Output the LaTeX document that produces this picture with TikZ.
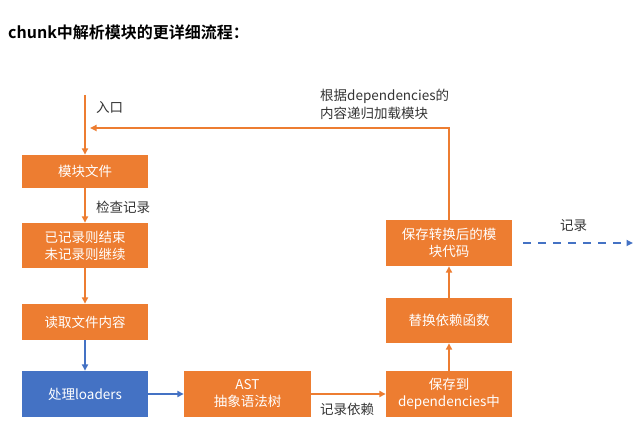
\documentclass[tikz,border=0pt]{standalone}
\usepackage{fontspec}
\setmainfont{Noto Sans CJK SC}[BoldFont={Noto Sans CJK SC Bold}]
\usetikzlibrary{arrows.meta}
\definecolor{boxorange}{HTML}{ED7D31}
\definecolor{boxblue}{HTML}{4472C4}
\definecolor{labelgray}{HTML}{333333}

\begin{document}
\begin{tikzpicture}[x=1pt,y=-1pt,
    stage/.style ={rectangle, fill=boxorange, text=white, minimum width=126pt,
      inner sep=0pt, align=center, font=\fontsize{13.5}{17}\selectfont},
    flow/.style ={draw=boxorange, line width=2pt, -{Triangle[length=6.5pt,width=6pt]}},
    bflow/.style ={draw=boxblue, line width=2pt, -{Triangle[length=6.5pt,width=6pt]}},
    note/.style ={text=labelgray, inner sep=0pt, align=left, font=\fontsize{13.5}{18}\selectfont}]
   \useasboundingbox (0,0) rectangle (643,435);
   \node[anchor=west, inner sep=0pt, font=\fontsize{16}{18}\selectfont\bfseries] (title) at (8,32) {chunk中解析模块的更详细流程：};
   % left column
   \node[stage, minimum height=33pt] (file)  at (85,171.5) {模块文件};
   \node[stage, minimum height=45pt] (check) at (85,245.5) {已记录则结束\\未记录则继续};
   \node[stage, minimum height=36pt] (read)  at (85,322)   {读取文件内容};
   \node[stage, minimum height=46pt, fill=boxblue] (loaders) at (85,394) {处理loaders};
   % bottom and right column
   \node[stage, minimum height=46pt, minimum width=127pt] (ast) at (247.5,394) {AST\\抽象语法树};
   \node[stage, minimum height=46pt] (save)    at (449,394)   {保存到\\dependencies中};
   \node[stage, minimum height=45pt] (replace) at (449,320.5) {替换依赖函数};
   \node[stage, minimum height=46pt] (store)   at (449,243)   {保存转换后的模\\块代码};
   \coordinate (entry) at (85,95);
   \coordinate (loop) at (449,128);
   \coordinate (back) at (85,128);
   \coordinate (recA) at (523,243);
   \coordinate (recB) at (633,243);
   % labels
   \node[note, anchor=west] (entrytext) at (96,107) {入口};
   \node[note, anchor=west] (checktext) at (96,207) {检查记录};
   \node[note, anchor=west] (looptext)  at (320,104) {根据dependencies的\\内容递归加载模块};
   \node[note, anchor=west] (rectext)   at (560,226) {记录};
   \node[note, anchor=west] (deptext)   at (320,409) {记录依赖};
   % connectors
   \draw[flow] (entry) to (file);
   \draw[flow] (file) to (check);
   \draw[flow] (check) to (read);
   \draw[bflow] (read) to (loaders);
   \draw[bflow] (loaders) to (ast);
   \draw[flow] (ast) to (save);
   \draw[flow] (save) to (replace);
   \draw[flow] (replace) to (store);
   \draw[flow, shorten >=5pt] (store.north) -- (loop) -- (back);
   \draw[bflow, line width=2.5pt, dash pattern=on 8pt off 7pt] (recA) -- (recB);
 \end{tikzpicture}
\end{document}
